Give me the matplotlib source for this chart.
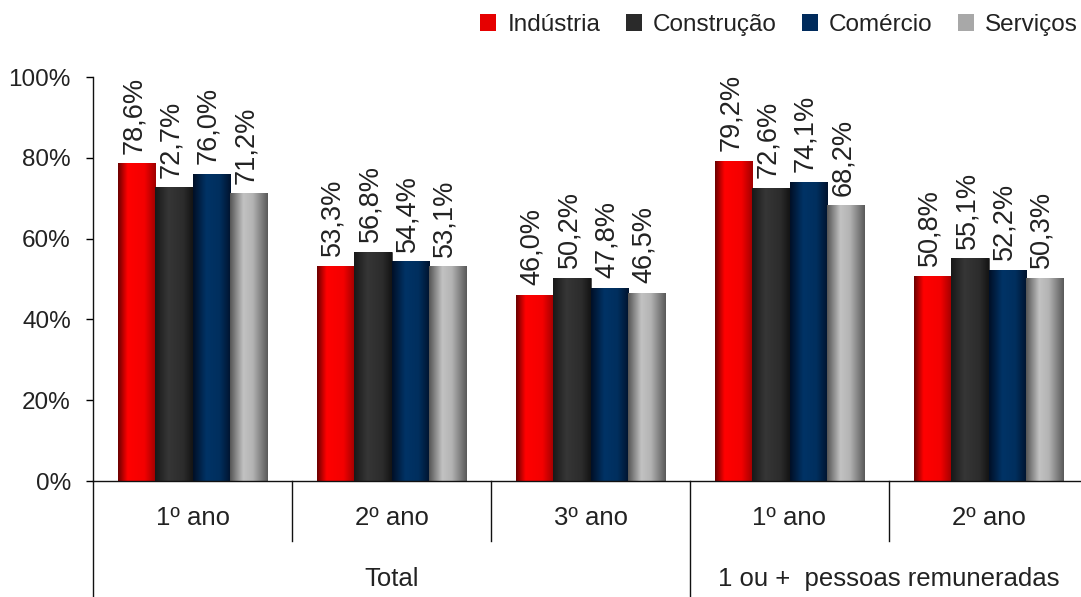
import numpy as np
import matplotlib.pyplot as plt
from matplotlib.colors import LinearSegmentedColormap
from matplotlib.patches import Patch

plt.rcParams['font.family'] = ['Liberation Sans', 'DejaVu Sans']

categories = ['1º ano', '2º ano', '3º ano', '1º ano', '2º ano']
groups = ['Total', '1 ou +  pessoas remuneradas']
group_spans = [(0, 2), (3, 4)]
series = ['Indústria', 'Construção', 'Comércio', 'Serviços']
industria = [78.6, 53.3, 46.0, 79.2, 50.8]
construcao = [72.7, 56.8, 50.2, 72.6, 55.1]
comercio = [76.0, 54.4, 47.8, 74.1, 52.2]
servicos = [71.2, 53.1, 46.5, 68.2, 50.3]
values = [industria, construcao, comercio, servicos]

# cylinder-like shading, left to right across each bar
shades = [
    [(0.0, '#6a0000'), (0.25, '#ff0000'), (0.7, '#f40000'), (1.0, '#a00000')],
    [(0.0, '#181818'), (0.35, '#363636'), (0.75, '#2c2c2c'), (1.0, '#141414')],
    [(0.0, '#000f26'), (0.35, '#003366'), (0.7, '#002f5e'), (1.0, '#00132e')],
    [(0.0, '#555555'), (0.35, '#c2c2c2'), (0.6, '#b4b4b4'), (1.0, '#595959')],
]
legend_colors = ['#e60000', '#2a2a2a', '#002b5c', '#a8a8a8']

fig = plt.figure(figsize=(10.81, 5.97), dpi=100)
ax = fig.add_axes([93 / 1081, 116 / 597, 995 / 1081, 404 / 597])

x = np.arange(len(categories))
width = 0.75 / len(series)
grad = np.linspace(0, 1, 128).reshape(1, -1)

for i, (name, vals) in enumerate(zip(series, values)):
    offs = x - 0.375 + width * (i + 0.5)
    bars = ax.bar(offs, [v / 100 for v in vals], width, color=legend_colors[i],
                  edgecolor='#202020', linewidth=0.4, zorder=2)
    cmap = LinearSegmentedColormap.from_list(name, shades[i])
    for b, v in zip(bars, vals):
        bx, by = b.get_x(), b.get_y()
        bw, bh = b.get_width(), b.get_height()
        im = ax.imshow(grad, cmap=cmap, aspect='auto', extent=[bx, bx + bw, by, by + bh],
                       zorder=2.5, interpolation='bicubic')
        im.set_clip_path(b)
        ax.annotate(f'{v:.1f}%'.replace('.', ','), (bx + bw / 2, bh),
                    xytext=(-2, 7), textcoords='offset points', rotation=90,
                    ha='center', va='bottom', fontsize=19.5, color='#222222')

ax.set_xlim(-0.5, len(categories) - 0.5)
ax.set_ylim(0, 1)
ax.set_yticks(np.arange(0, 1.01, 0.2))
ax.set_yticklabels([f'{int(t * 100)}%' for t in np.arange(0, 1.01, 0.2)])
ax.tick_params(axis='y', direction='out', length=5, width=1, pad=11,
               labelsize=17.5, labelcolor='#222222')
ax.set_xticks([])
for s in ['top', 'right']:
    ax.spines[s].set_visible(False)
for s in ['left', 'bottom']:
    ax.spines[s].set_linewidth(1)
    ax.spines[s].set_color('#111111')

# two-level category axis below the plot
tr = ax.get_xaxis_transform()
for xi, lab in zip(x, categories):
    ax.text(xi, -0.092, lab, transform=tr, ha='center', va='center',
            fontsize=18.5, color='#222222')
for k in range(len(categories) + 1):
    xs = k - 0.5
    long_sep = any(xs == a - 0.5 for a, _ in group_spans)
    ax.plot([xs, xs], [0, -0.29 if long_sep else -0.148], transform=tr,
            color='#111111', lw=1, clip_on=False)
for lab, (a, b) in zip(groups, group_spans):
    ax.text((a + b) / 2, -0.243, lab, transform=tr, ha='center', va='center',
            fontsize=18.5, color='#222222')

handles = [Patch(facecolor=c, edgecolor='none') for c in legend_colors]
fig.legend(handles, series, loc='center right', bbox_to_anchor=(1078 / 1081, 1 - 25 / 597),
           ncol=4, frameon=False, fontsize=17.5, handlelength=0.66, handleheight=0.66,
           handletextpad=0.45, columnspacing=1.05, borderpad=0, borderaxespad=0,
           labelcolor='#222222')

fig.savefig('out.png', dpi=100)
